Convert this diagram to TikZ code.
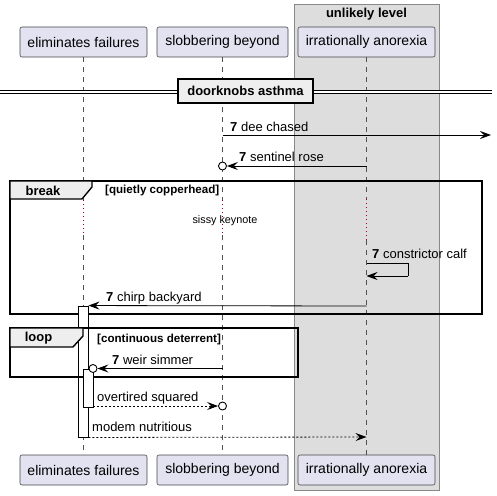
\documentclass[tikz,border=0pt]{standalone}
\usepackage{fontspec}
\setmainfont{Liberation Sans}
\usetikzlibrary{arrows.meta}
\definecolor{partfill}{HTML}{E2E2F0}
\definecolor{partdraw}{HTML}{181818}
\definecolor{boxfill}{HTML}{DDDDDD}
\definecolor{boxdraw}{HTML}{888888}
\definecolor{tabfill}{HTML}{EEEEEE}
\definecolor{delayred}{HTML}{A80036}
\tikzset{
  part/.style={draw=partdraw!80, fill=partfill, rounded corners=2pt, line width=0.6pt,
    minimum height=30pt, inner sep=0pt, font=\fontsize{14}{16}\selectfont},
  life/.style={draw=partdraw!75, line width=0.5pt, dash pattern=on 5pt off 5pt},
  delayline/.style={draw=delayred, line width=0.8pt, dash pattern=on 1pt off 3pt},
  msg/.style={draw=black, line width=0.8pt, -{Stealth[length=11pt,width=8pt,inset=4pt]}},
  dmsg/.style={msg, dash pattern=on 2pt off 2pt},
  plainline/.style={draw=black, line width=0.8pt},
  lbl/.style={anchor=base west, inner sep=0pt, font=\fontsize{13}{15}\selectfont},
  circ/.style={circle, draw=black, line width=0.9pt, fill=white, minimum size=8pt, inner sep=0pt},
  frame/.style={draw=black, line width=1.4pt},
  tab/.style={draw=black, line width=1.4pt, fill=tabfill},
  cond/.style={anchor=west, inner sep=0pt, font=\fontsize{11.6}{13}\selectfont\bfseries},
  framelbl/.style={inner sep=0pt, font=\fontsize{13}{15}\selectfont\bfseries},
  actbar/.style={draw=black, line width=0.9pt, fill=white},
}
\begin{document}
\begin{tikzpicture}[x=1pt,y=-1pt]
\useasboundingbox (0,0) rectangle (497,495);
% group box
\draw[fill=boxfill, draw=boxdraw, line width=1pt] (294,5) rectangle (439.5,490);
\node[framelbl] (boxlbl) at (366.5,14.5) {unlikely level};
% participants
\node[part, minimum width=127pt] (pa) at (83.5,42) {eliminates failures};
\node[part, minimum width=131pt] (pb) at (222.5,42) {slobbering beyond};
\node[part, minimum width=137pt] (pc) at (366.5,42) {irrationally anorexia};
\node[part, minimum width=127pt] (pa2) at (83.5,470) {eliminates failures};
\node[part, minimum width=131pt] (pb2) at (222.5,470) {slobbering beyond};
\node[part, minimum width=137pt] (pc2) at (366.5,470) {irrationally anorexia};
% lifeline coordinates around delay
\coordinate (da1) at (83.5,200); \coordinate (da2) at (83.5,235);
\coordinate (db1) at (222.5,200); \coordinate (db2) at (222.5,235);
\coordinate (dc1) at (366.5,199); \coordinate (dc2) at (366.5,240);
\draw[life] (pa.south) -- (da1); \draw[delayline] (da1) -- (da2); \draw[life] (da2) -- (pa2.north);
\draw[life] (pb.south) -- (db1); \draw[delayline] (db1) -- (db2); \draw[life] (db2) -- (pb2.north);
\draw[life] (pc.south) -- (dc1); \draw[delayline] (dc1) -- (dc2); \draw[life] (dc2) -- (pc2.north);
% divider
\coordinate (dvl1) at (0,90); \coordinate (dvl2) at (178,90);
\coordinate (dvl3) at (0,93.5); \coordinate (dvl4) at (178,93.5);
\coordinate (dvr1) at (313,90); \coordinate (dvr2) at (492,90);
\coordinate (dvr3) at (313,93.5); \coordinate (dvr4) at (492,93.5);
\fill[white] (dvl1) rectangle (dvl4);
\fill[white] (dvr1) rectangle (dvr4);
\draw[line width=1pt] (dvl1) -- (dvl2) (dvl3) -- (dvl4) (dvr1) -- (dvr2) (dvr3) -- (dvr4);
\node[draw=black, line width=1.4pt, fill=tabfill, minimum width=135pt, minimum height=24pt, inner sep=0pt,
  font=\fontsize{13}{15}\selectfont\bfseries] (div) at (245.5,91) {doorknobs asthma};
% message 1
\coordinate (m1s) at (222.5,135); \coordinate (m1e) at (491,135);
\draw[msg] (m1s) -- (m1e);
\node[lbl] (l1) at (230,131) {\textbf{7} dee chased};
% message 2
\node[circ] (c2) at (222.5,166) {};
\coordinate (m2s) at (366.5,166);
\draw[msg] (m2s) -- (c2.east);
\node[lbl] (l2) at (239,161.5) {\textbf{7} sentinel rose};
% break frame
\draw[frame] (10,181) rectangle (482,314);
\draw[tab] (10,181) -- (92,181) -- (92,187) -- (82,199) -- (10,199) -- cycle;
\node[framelbl] (brk) at (43,190.5) {break};
\node[cond] (brkc) at (105,190.5) {[quietly copperhead]};
\node[inner sep=0pt, font=\fontsize{10.8}{12}\selectfont] (delay) at (225,221) {sissy keynote};
% self message
\coordinate (s1) at (366.5,263); \coordinate (s2) at (408,263);
\coordinate (s3) at (408,276); \coordinate (s4) at (366.5,276);
\draw[plainline] (s1) -- (s2) -- (s3);
\draw[msg] (s3) -- (s4);
\node[lbl] (l3) at (372,258.5) {\textbf{7} constrictor calf};
% activation bars
\node[actbar, minimum width=10pt, minimum height=131pt, inner sep=0pt] (act1) at (83,371.5) {};
% chirp backyard
\coordinate (m4s) at (366.5,306);
\draw[msg] (m4s) -- (act1.north east);
\node[lbl] (l4) at (106,301.5) {\textbf{7} chirp backyard};
% loop frame
\draw[frame] (10,328) rectangle (298,377);
\draw[tab] (10,328) -- (83,328) -- (83,336) -- (73,347) -- (10,347) -- cycle;
\node[framelbl] (lp) at (38.5,338) {loop};
\node[cond] (lpc) at (97,339) {[continuous deterrent]};
% inner activation
\node[actbar, minimum width=10pt, minimum height=38pt, inner sep=0pt] (act2) at (88,388) {};
% weir simmer
\node[circ] (c5) at (93,368.5) {};
\coordinate (m5s) at (222.5,368.5);
\draw[msg] (m5s) -- (c5.east);
\node[lbl] (l5) at (112,364.5) {\textbf{7} weir simmer};
% overtired squared
\node[circ] (c6) at (222.5,406) {};
\coordinate (m6s) at (93,406);
\draw[dmsg] (m6s) -- (c6.west);
\node[lbl] (l6) at (97,401.7) {overtired squared};
% modem nutritious
\coordinate (m7e) at (366.5,437);
\draw[dmsg] (act1.south east) -- (m7e);
\node[lbl] (l7) at (92,431.7) {modem nutritious};
\end{tikzpicture}
\end{document}
